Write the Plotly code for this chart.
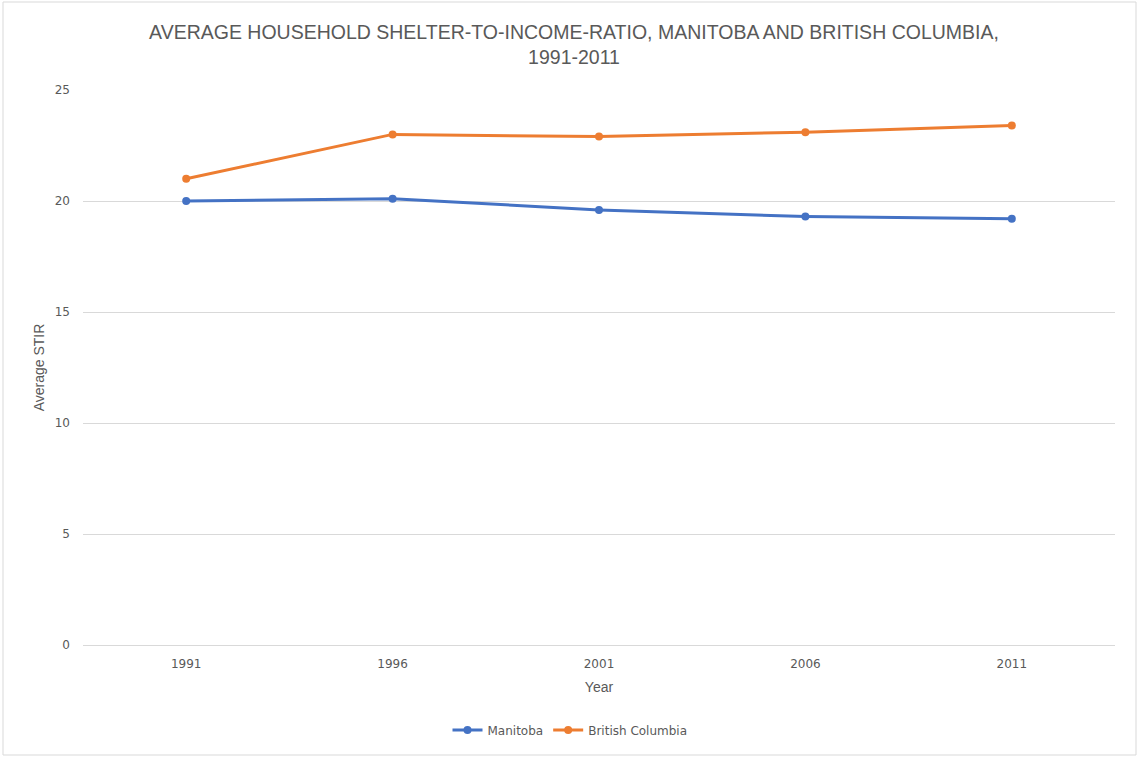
import plotly.graph_objects as go

years = ["1991", "1996", "2001", "2006", "2011"]
manitoba = [20.0, 20.1, 19.6, 19.3, 19.2]
british_columbia = [21.0, 23.0, 22.9, 23.1, 23.4]
y_ticks = [0, 5, 10, 15, 20, 25]

W, H = 1138, 757
L, R, T, B = 83, 1115, 90, 645
pw, ph = R - L, B - T

def px(x):
    return (x - L) / pw

def py(y):
    return (B - y) / ph

fig = go.Figure()
fig.add_trace(go.Scatter(x=years, y=manitoba, name="Manitoba", mode="lines+markers",
                         line=dict(color="#4472C4", width=3), marker=dict(size=8, color="#4472C4")))
fig.add_trace(go.Scatter(x=years, y=british_columbia, name="British Columbia", mode="lines+markers",
                         line=dict(color="#ED7D31", width=3), marker=dict(size=8, color="#ED7D31")))

title_font = "Liberation Sans Narrow, Arial Narrow, sans-serif"
tick_font = dict(family="DejaVu Sans", size=12, color="#595959")

fig.update_layout(
    width=W, height=H,
    margin=dict(l=L, r=W - R, t=T, b=H - B),
    paper_bgcolor="white", plot_bgcolor="white",
    title=dict(text="AVERAGE HOUSEHOLD SHELTER-TO-INCOME-RATIO, MANITOBA AND BRITISH COLUMBIA,<br>1991-2011",
               x=574 / W, xanchor="center", y=1 - 39 / H, yanchor="middle",
               font=dict(family=title_font, size=19.5, color="#595959")),
    xaxis=dict(type="category", range=[-0.5, 4.5], showgrid=False, showline=False, ticks="",
               tickfont=tick_font, ticklabelstandoff=10,
               title=dict(text="Year", font=dict(family=title_font, size=14, color="#595959"), standoff=12)),
    yaxis=dict(range=[0, 25], tickvals=y_ticks, showgrid=True, gridcolor="#D9D9D9", gridwidth=1,
               zeroline=True, zerolinecolor="#D9D9D9", zerolinewidth=1, showline=False, ticks="",
               ticklabelstandoff=12, tickfont=tick_font,
               title=dict(text="Average STIR", font=dict(family=title_font, size=14, color="#595959"), standoff=6)),
    legend=dict(orientation="h", x=px(570), xanchor="center", y=py(730), yanchor="middle",
                font=dict(family="DejaVu Sans", size=12, color="#595959"), itemwidth=30,
                traceorder="normal"),
    showlegend=True,
)

fig.add_shape(type="rect", xref="paper", yref="paper",
              x0=px(3), x1=px(1136), y0=py(755), y1=py(2),
              line=dict(color="#D9D9D9", width=1), layer="below")

fig.write_html("out.html")
